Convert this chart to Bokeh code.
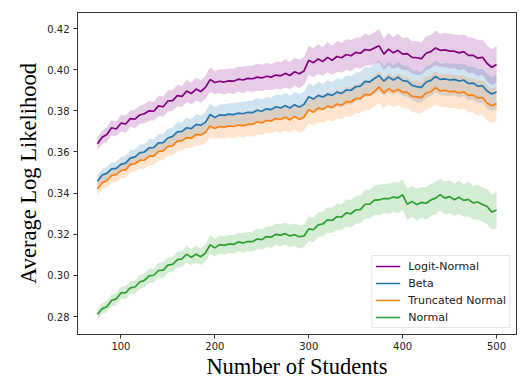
from bokeh.plotting import figure
from bokeh.models import Range1d, FixedTicker, PrintfTickFormatter, Legend, LegendItem
from bokeh.embed import file_html
from bokeh.resources import INLINE

students = list(range(75, 505, 5))

logit_normal = [
    .3640, .3672, .3685, .3718, .3712, .3740,
    .3736, .3762, .3760, .3780, .3786, .3800, .3798, .3824, .3820, .3848,
    .3850, .3874, .3870, .3896, .3884, .3906, .3894, .3914, .3952, .3938,
    .3944, .3940, .3946, .3944, .3954, .3950, .3958, .3956, .3964, .3960,
    .3968, .3964, .3974, .3970, .3982, .3972, .3990, .3980, .3994, .4046,
    .4034, .4052, .4040, .4060, .4046, .4064, .4058, .4074, .4068, .4084,
    .4080, .4098, .4094, .4106, .4116, .4076, .4100, .4082, .4094, .4076,
    .4078, .4060, .4058, .4054, .4080, .4088, .4106, .4094, .4096, .4090,
    .4090, .4082, .4088, .4070, .4070, .4056, .4060, .4030, .4012, .4025,
]
beta = [
    .3458, .3488, .3496, .3518, .3520, .3540,
    .3546, .3570, .3576, .3596, .3600, .3620, .3622, .3644, .3646, .3668,
    .3676, .3698, .3700, .3718, .3714, .3734, .3730, .3744, .3782, .3768,
    .3780, .3778, .3784, .3782, .3789, .3786, .3793, .3791, .3803, .3798,
    .3810, .3806, .3820, .3814, .3825, .3814, .3830, .3818, .3832, .3869,
    .3857, .3875, .3867, .3881, .3875, .3891, .3885, .3901, .3900, .3917,
    .3920, .3943, .3940, .3957, .3972, .3944, .3965, .3950, .3963, .3947,
    .3944, .3924, .3918, .3914, .3940, .3948, .3967, .3953, .3955, .3950,
    .3953, .3945, .3950, .3933, .3935, .3920, .3922, .3896, .3882, .3892,
]
truncated_normal = [
    .3420, .3451, .3460, .3486, .3490, .3510,
    .3513, .3540, .3543, .3560, .3560, .3580, .3580, .3603, .3605, .3627,
    .3630, .3653, .3655, .3670, .3667, .3685, .3683, .3696, .3726, .3714,
    .3724, .3721, .3727, .3724, .3731, .3728, .3735, .3734, .3747, .3741,
    .3753, .3751, .3763, .3758, .3770, .3756, .3773, .3758, .3770, .3806,
    .3793, .3813, .3807, .3823, .3817, .3833, .3827, .3845, .3843, .3860,
    .3860, .3880, .3877, .3895, .3916, .3888, .3907, .3893, .3905, .3890,
    .3890, .3870, .3868, .3864, .3887, .3893, .3913, .3897, .3900, .3893,
    .3895, .3887, .3893, .3875, .3877, .3863, .3865, .3838, .3825, .3835,
]
normal = [
    .2810, .2838, .2848, .2878, .2886, .2915,
    .2916, .2940, .2944, .2968, .2976, .2998, .3001, .3024, .3026, .3050,
    .3054, .3076, .3081, .3103, .3088, .3103, .3091, .3109, .3149, .3134,
    .3150, .3146, .3153, .3151, .3163, .3158, .3165, .3164, .3177, .3174,
    .3189, .3186, .3200, .3196, .3203, .3192, .3198, .3188, .3192, .3226,
    .3222, .3246, .3250, .3270, .3267, .3286, .3283, .3304, .3300, .3318,
    .3320, .3346, .3347, .3366, .3367, .3374, .3373, .3381, .3377, .3392,
    .3346, .3360, .3344, .3355, .3351, .3367, .3376, .3393, .3376, .3383,
    .3368, .3380, .3365, .3370, .3353, .3357, .3345, .3335, .3308, .3318,
]

logit_normal_err = [
    .0030, .0033, .0035, .0038, .0036, .0040,
    .0042, .0040, .0045, .0043, .0046, .0048, .0045, .0050, .0048, .0052,
    .0050, .0053, .0051, .0055, .0052, .0056, .0054, .0057, .0060, .0056,
    .0058, .0061, .0059, .0062, .0060, .0064, .0061, .0063, .0066, .0064,
    .0065, .0063, .0067, .0066, .0069, .0066, .0068, .0070, .0067, .0071,
    .0070, .0072, .0069, .0073, .0071, .0075, .0072, .0074, .0076, .0073,
    .0075, .0078, .0074, .0077, .0080, .0076, .0079, .0077, .0081, .0078,
    .0080, .0078, .0082, .0079, .0083, .0081, .0084, .0080, .0083, .0085,
    .0082, .0086, .0083, .0087, .0085, .0088, .0086, .0089, .0087, .0090,
]
beta_err = [
    .0028, .0030, .0032, .0031, .0034, .0035,
    .0036, .0038, .0036, .0040, .0039, .0042, .0041, .0044, .0042, .0045,
    .0044, .0047, .0045, .0048, .0046, .0050, .0049, .0051, .0053, .0050,
    .0052, .0054, .0053, .0056, .0054, .0057, .0055, .0058, .0060, .0057,
    .0059, .0058, .0061, .0060, .0063, .0061, .0062, .0064, .0062, .0065,
    .0064, .0066, .0063, .0067, .0065, .0068, .0066, .0069, .0070, .0068,
    .0069, .0072, .0070, .0073, .0075, .0071, .0074, .0072, .0076, .0073,
    .0075, .0073, .0077, .0074, .0078, .0076, .0079, .0075, .0078, .0080,
    .0077, .0081, .0078, .0082, .0080, .0083, .0081, .0084, .0082, .0085,
]
truncated_normal_err = [
    .0030, .0032, .0034, .0033, .0036, .0037,
    .0038, .0040, .0038, .0042, .0041, .0044, .0043, .0046, .0044, .0047,
    .0046, .0049, .0047, .0050, .0048, .0052, .0051, .0053, .0055, .0052,
    .0054, .0056, .0055, .0058, .0056, .0059, .0057, .0060, .0062, .0059,
    .0061, .0060, .0063, .0062, .0065, .0063, .0064, .0066, .0064, .0067,
    .0066, .0068, .0065, .0069, .0067, .0070, .0068, .0071, .0072, .0070,
    .0071, .0074, .0072, .0075, .0077, .0073, .0076, .0074, .0078, .0075,
    .0077, .0075, .0079, .0076, .0080, .0078, .0081, .0077, .0080, .0082,
    .0079, .0083, .0080, .0084, .0082, .0085, .0083, .0086, .0084, .0088,
]
normal_err = [
    .0025, .0027, .0026, .0028, .0030, .0029,
    .0031, .0030, .0032, .0034, .0033, .0035, .0034, .0036, .0038, .0036,
    .0037, .0039, .0038, .0040, .0039, .0041, .0040, .0042, .0045, .0042,
    .0043, .0045, .0044, .0046, .0045, .0048, .0046, .0048, .0050, .0049,
    .0050, .0052, .0051, .0054, .0053, .0055, .0054, .0056, .0055, .0058,
    .0058, .0060, .0059, .0062, .0061, .0064, .0063, .0065, .0067, .0066,
    .0068, .0070, .0069, .0072, .0074, .0071, .0073, .0072, .0075, .0074,
    .0076, .0074, .0078, .0075, .0079, .0077, .0080, .0076, .0079, .0081,
    .0078, .0082, .0080, .0084, .0081, .0085, .0083, .0086, .0085, .0088,
]

series_names = ["Logit-Normal", "Beta", "Truncated Normal", "Normal"]
series_values = [logit_normal, beta, truncated_normal, normal]
series_errs = [logit_normal_err, beta_err, truncated_normal_err, normal_err]
series_colors = ["#800080", "#1f77b4", "#ff7f0e", "#2ca02c"]

x_ticks = [100, 200, 300, 400, 500]
y_ticks = [0.28, 0.30, 0.32, 0.34, 0.36, 0.38, 0.40, 0.42]

p = figure(width=520, height=384, output_backend="svg", toolbar_location=None,
           x_range=Range1d(53.75, 521.25), y_range=Range1d(0.2713, 0.4278),
           min_border_left=77, min_border_right=4, min_border_top=12, min_border_bottom=50)
p.xgrid.visible = False
p.ygrid.visible = False
p.outline_line_color = "#333333"
p.outline_line_width = 1
p.background_fill_color = "white"
p.border_fill_color = "white"

items = []
for name, vals, errs, col in zip(series_names, series_values, series_errs, series_colors):
    lower = [v - e for v, e in zip(vals, errs)]
    upper = [v + e for v, e in zip(vals, errs)]
    p.varea(x=students, y1=lower, y2=upper, fill_color=col, fill_alpha=0.2)
for name, vals, errs, col in zip(series_names, series_values, series_errs, series_colors):
    r = p.line(students, vals, line_color=col, line_width=1.7)
    items.append(LegendItem(label=name, renderers=[r]))

for ax in (p.xaxis[0], p.yaxis[0]):
    ax.axis_line_color = "#333333"
    ax.major_tick_line_color = "#333333"
    ax.major_tick_out = 4
    ax.major_tick_in = 0
    ax.minor_tick_out = 0
    ax.minor_tick_in = 0
    ax.major_label_text_font = "DejaVu Sans"
    ax.major_label_text_font_size = "10px"
    ax.major_label_text_color = "#222222"
    ax.axis_label_text_font = "Liberation Serif"
    ax.axis_label_text_font_style = "normal"
    ax.axis_label_text_font_size = "22.5px"
    ax.axis_label_text_color = "black"

p.xaxis.ticker = FixedTicker(ticks=x_ticks)
p.yaxis.ticker = FixedTicker(ticks=y_ticks)
p.yaxis.formatter = PrintfTickFormatter(format="%.2f")
p.xaxis.formatter = PrintfTickFormatter(format="%d")
p.xaxis.axis_label = "Number of Students"
p.yaxis.axis_label = "Average Log Likelihood"
p.xaxis.major_label_standoff = 3
p.yaxis.major_label_standoff = 4
p.xaxis.axis_label_standoff = 1
p.yaxis.axis_label_standoff = 3

legend = Legend(items=items, location="bottom_right", margin=6, padding=3,
                spacing=3, label_standoff=8, glyph_width=25, glyph_height=14,
                label_height=14, label_text_font="DejaVu Sans",
                label_text_font_size="11px", label_text_color="#222222",
                border_line_color="#cccccc", border_line_width=1,
                background_fill_alpha=0.8)
p.add_layout(legend)

open("out.html", "w").write(file_html(p, INLINE))
